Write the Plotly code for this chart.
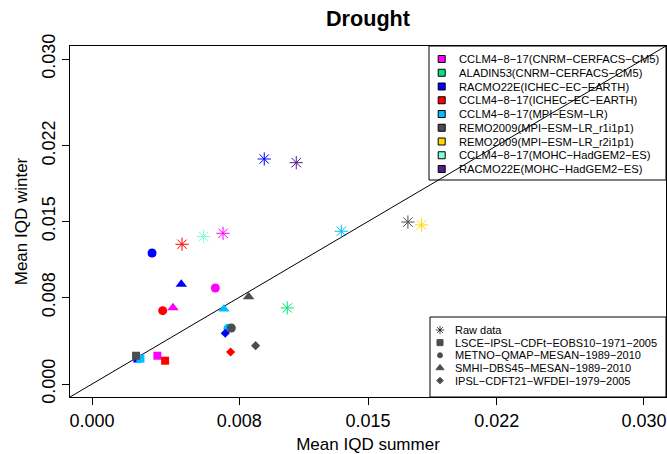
import plotly.graph_objects as go

# ---- data: mean inter-quantile distance (IQD), summer vs winter ----
models = [
    "CCLM4\u22128\u221217(CNRM\u2212CERFACS\u2212CM5)",
    "ALADIN53(CNRM\u2212CERFACS\u2212CM5)",
    "RACMO22E(ICHEC\u2212EC\u2212EARTH)",
    "CCLM4\u22128\u221217(ICHEC\u2212EC\u2212EARTH)",
    "CCLM4\u22128\u221217(MPI\u2212ESM\u2212LR)",
    "REMO2009(MPI\u2212ESM\u2212LR_r1i1p1)",
    "REMO2009(MPI\u2212ESM\u2212LR_r2i1p1)",
    "CCLM4\u22128\u221217(MOHC\u2212HadGEM2\u2212ES)",
    "RACMO22E(MOHC\u2212HadGEM2\u2212ES)",
]
model_colors = ["#FF00FF", "#00E676", "#0000FF", "#FF0000", "#00BFFF",
                "#4D4D4D", "#FFD700", "#7FFFD4", "#551A8B"]

methods = [
    "Raw data",
    "LSCE\u2212IPSL\u2212CDFt\u2212EOBS10\u22121971\u22122005",
    "METNO\u2212QMAP\u2212MESAN\u22121989\u22122010",
    "SMHI\u2212DBS45\u2212MESAN\u22121989\u22122010",
    "IPSL\u2212CDFT21\u2212WFDEI\u22121979\u22122005",
]

raw_summer = [0.00712, 0.01061, 0.00936, 0.00489, 0.01355, 0.01717, 0.01791, 0.00606, 0.01110]
raw_winter = [0.01391, 0.00702, 0.02077, 0.01290, 0.01410, 0.01495, 0.01468, 0.01362, 0.02043]

lsce_summer = [0.00355, None, 0.00246, 0.00397, 0.00263, 0.00239, None, None, None]
lsce_winter = [0.00261, None, 0.00235, 0.00215, 0.00234, 0.00261, None, None, None]

metno_summer = [0.00670, None, 0.00326, 0.00384, 0.00739, 0.00757, None, None, None]
metno_winter = [0.00886, None, 0.01209, 0.00677, 0.00514, 0.00517, None, None, None]

smhi_summer = [0.00440, None, 0.00485, None, 0.00717, 0.00851, None, None, None]
smhi_winter = [0.00704, None, 0.00920, None, 0.00692, 0.00806, None, None, None]

ipsl_summer = [None, None, 0.00724, 0.00753, None, 0.00889, None, None, None]
ipsl_winter = [None, None, 0.00468, 0.00295, None, 0.00354, None, None, None]

tick_vals = [0.000, 0.008, 0.015, 0.022, 0.030]
tick_text = ["0.000", "0.008", "0.015", "0.022", "0.030"]
axis_lim = [0.0, 0.030]

# ---- styling ----
FONT = "Liberation Sans, Arial, Helvetica, sans-serif"
W, H = 667, 454
ML, MR, MT, MB = 70, 1, 46, 57
pad = 0.04 * (axis_lim[1] - axis_lim[0])
rng = [axis_lim[0] - pad, axis_lim[1] + pad]

series = [
    (raw_summer, raw_winter, "asterisk-open", 11, 1.0),
    (lsce_summer, lsce_winter, "square", 8, 0),
    (metno_summer, metno_winter, "circle", 9, 0),
    (smhi_summer, smhi_winter, "triangle-up", 10, 0),
    (ipsl_summer, ipsl_winter, "diamond", 7, 0),
]

fig = go.Figure()

for xs, ys, sym, size, lw in series:
    pts = [(x, y, c) for x, y, c in zip(xs, ys, model_colors) if x is not None]
    fig.add_trace(go.Scatter(
        x=[p[0] for p in pts], y=[p[1] for p in pts], mode="markers",
        marker=dict(symbol=sym, size=size, color=[p[2] for p in pts],
                    line=dict(width=lw, color=[p[2] for p in pts])),
        showlegend=False, hoverinfo="skip",
    ))

# ---- hand-built legends, drawn on a pixel-based helper axis pair ----
x_left_px, x_right_px = ML, W - MR
y_top_px, y_bot_px = MT, H - MB

shapes = []
annotations = []

# model legend (top right)
leg1 = dict(x0=429, x1=x_right_px, y0=y_top_px, y1=180, key_x=441.7, text_x=457,
            row0=59, step=13.75)
shapes.append(dict(type="rect", xref="x2", yref="y2", x0=leg1["x0"], x1=leg1["x1"],
                   y0=leg1["y0"], y1=leg1["y1"], line=dict(color="black", width=1),
                   fillcolor="white", layer="below"))
rows1 = [leg1["row0"] + i * leg1["step"] for i in range(len(models))]
fig.add_trace(go.Scatter(
    x=[leg1["key_x"]] * len(models), y=rows1, xaxis="x2", yaxis="y2", mode="markers",
    marker=dict(symbol="square", size=7, color=model_colors, line=dict(color="black", width=1)),
    showlegend=False, hoverinfo="skip", cliponaxis=False,
))
for name, yy in zip(models, rows1):
    annotations.append(dict(x=leg1["text_x"], y=yy, xref="x2", yref="y2", text=name,
                            showarrow=False, xanchor="left", yanchor="middle",
                            font=dict(family=FONT, size=11.2, color="black")))

# method legend (bottom right)
leg2 = dict(x0=430, x1=x_right_px, y0=317, y1=y_bot_px, key_x=440, text_x=453,
            row0=330, step=12.65)
shapes.append(dict(type="rect", xref="x2", yref="y2", x0=leg2["x0"], x1=leg2["x1"],
                   y0=leg2["y0"], y1=leg2["y1"], line=dict(color="black", width=1),
                   fillcolor="white", layer="below"))
rows2 = [leg2["row0"] + i * leg2["step"] for i in range(len(methods))]
key_syms = ["asterisk-open", "square", "circle", "triangle-up", "diamond"]
key_sizes = [7, 6, 5, 7, 5]
fig.add_trace(go.Scatter(
    x=[leg2["key_x"]] * len(methods), y=rows2, xaxis="x2", yaxis="y2", mode="markers",
    marker=dict(symbol=key_syms, size=key_sizes, color="black",
                line=dict(color="black", width=1)),
    showlegend=False, hoverinfo="skip", cliponaxis=False,
))
for name, yy in zip(methods, rows2):
    annotations.append(dict(x=leg2["text_x"], y=yy, xref="x2", yref="y2", text=name,
                            showarrow=False, xanchor="left", yanchor="middle",
                            font=dict(family=FONT, size=11, color="black")))

# 1:1 reference line across the whole panel
shapes.append(dict(type="line", xref="x", yref="y", x0=rng[0], y0=rng[0], x1=rng[1], y1=rng[1],
                   line=dict(color="black", width=1), layer="below"))

axis_common = dict(
    range=rng, tickvals=tick_vals, ticktext=tick_text, ticks="outside", ticklen=7,
    tickcolor="black", tickwidth=1, showline=True, mirror=True, linecolor="black",
    linewidth=1, showgrid=False, zeroline=False,
    tickfont=dict(family=FONT, size=18, color="black"),
)

fig.update_layout(
    width=W, height=H,
    margin=dict(l=ML, r=MR, t=MT, b=MB, pad=0),
    paper_bgcolor="white", plot_bgcolor="white",
    font=dict(family=FONT, color="black"),
    title=dict(text="<b>Drought</b>", x=0.5, xref="paper", y=1 - 18 / H, yref="container",
               xanchor="center", yanchor="middle",
               font=dict(family=FONT, size=21.6, color="black")),
    xaxis=dict(**axis_common,
               title=dict(text="Mean IQD summer", standoff=12,
                          font=dict(family=FONT, size=17, color="black"))),
    yaxis=dict(**axis_common, tickangle=-90,
               title=dict(text="Mean IQD winter", standoff=6,
                          font=dict(family=FONT, size=17, color="black"))),
    xaxis2=dict(range=[x_left_px, x_right_px], overlaying="x", anchor="y2", visible=False,
                domain=[0, 1]),
    yaxis2=dict(range=[y_bot_px, y_top_px], overlaying="y", anchor="x2", visible=False,
                domain=[0, 1]),
    shapes=shapes,
    annotations=annotations,
    showlegend=False,
)

fig.write_html("out.html")
